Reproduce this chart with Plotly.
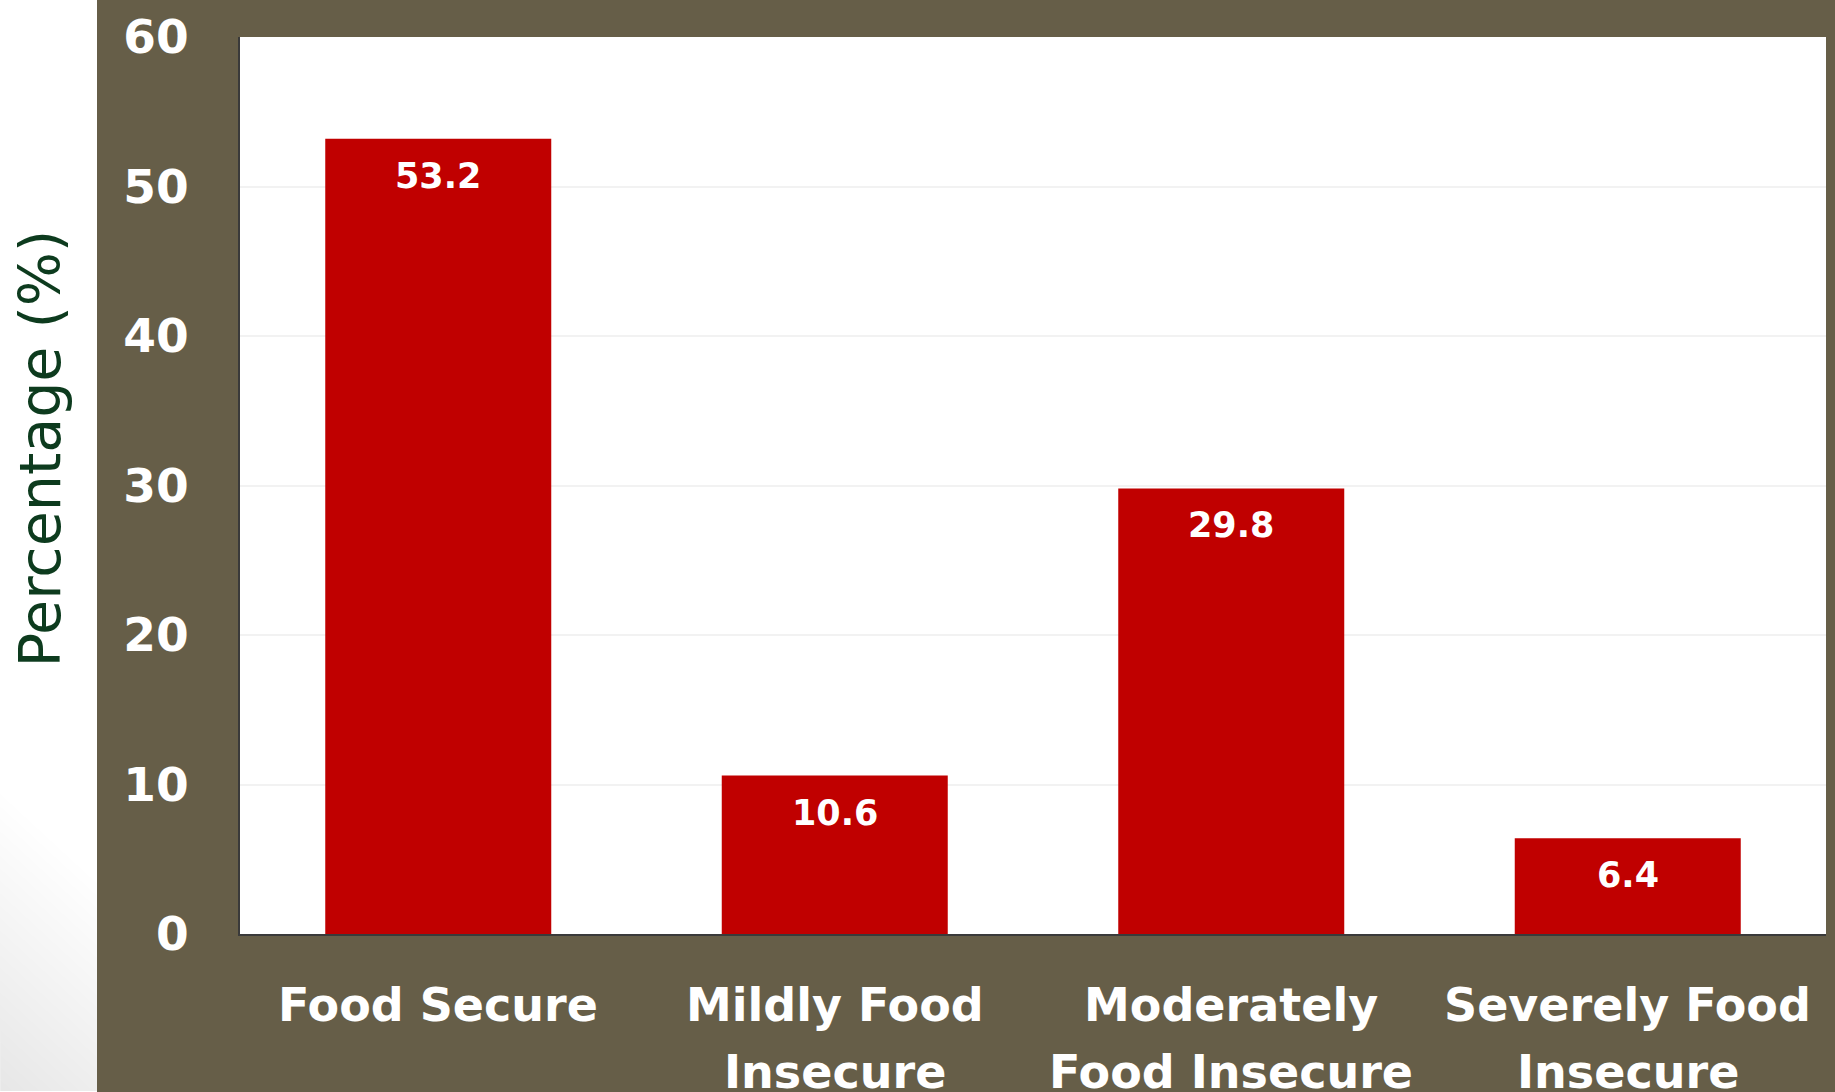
import plotly.graph_objects as go

categories = ["Food Secure", "Mildly Food Insecure", "Moderately Food Insecure", "Severely Food Insecure"]
label_lines = [["Food Secure"], ["Mildly Food", "Insecure"], ["Moderately", "Food Insecure"], ["Severely Food", "Insecure"]]
values = [53.2, 10.6, 29.8, 6.4]
y_ticks = [0, 10, 20, 30, 40, 50, 60]

W, H = 1835, 1092
L, R, T, B = 240, 9, 31, 158
PW, PH = W - L - R, H - T - B

def px_x(p):
    return (p - L) / PW

def px_y(p):
    return (H - B - p) / PH

OLIVE = "#665E48"
BAR = "#C00000"
FONT_B = "DejaVu Sans"

fig = go.Figure()
fig.add_trace(go.Bar(
    x=categories, y=values, marker=dict(color=BAR, line=dict(width=0)),
    width=0.57, hoverinfo="skip",
))

shapes = []
# subtle diagonal gradient in the lower-left white margin
n = 24
for i in range(n):
    c = 300 * (1 - i / n)
    path = "M {:.5f},{:.5f} L {:.5f},{:.5f} L {:.5f},{:.5f} Z".format(
        px_x(0), px_y(H), px_x(0), px_y(H - c), px_x(c / 0.93), px_y(H))
    shapes.append(dict(type="path", xref="paper", yref="paper", layer="below",
                       path=path, fillcolor="rgba(0,0,0,0.0052)", line=dict(width=0)))
shapes.append(dict(type="rect", xref="paper", yref="paper", layer="below",
                   x0=px_x(97), x1=px_x(W + 20), y0=px_y(H + 20), y1=px_y(-20),
                   fillcolor=OLIVE, line=dict(width=0)))
shapes.append(dict(type="rect", xref="paper", yref="paper", layer="below",
                   x0=0, x1=1, y0=0, y1=1, fillcolor="white", line=dict(width=0)))

annotations = []
for c, v in zip(categories, values):
    annotations.append(dict(x=c, y=v, xref="x", yref="y", text=f"{v}", showarrow=False,
                            yanchor="middle", yshift=-37,
                            font=dict(family=FONT_B, size=35, color="white", weight="bold")))
for c, lines in zip(categories, label_lines):
    for j, line in enumerate(lines):
        annotations.append(dict(x=c, y=px_y(1005 + 68 * j), xref="x", yref="paper",
                                text=line, showarrow=False, yanchor="middle",
                                font=dict(family=FONT_B, size=46, color="white", weight="bold")))
annotations.append(dict(x=px_x(40), y=px_y(446), xref="paper", yref="paper",
                        text="Percentage (%)", showarrow=False, textangle=-90,
                        xanchor="center", yanchor="middle",
                        font=dict(family="DejaVu Sans", size=57, color="#0D3B1E")))

fig.update_layout(
    width=W, height=H,
    margin=dict(l=L, r=R, t=T, b=B, pad=0),
    paper_bgcolor="white", plot_bgcolor="rgba(0,0,0,0)",
    showlegend=False, bargap=0.43,
    shapes=shapes, annotations=annotations,
    xaxis=dict(
        showticklabels=False,
        showline=True, linecolor="#3A3A3A", linewidth=2, showgrid=False, ticks="",
    ),
    yaxis=dict(
        range=[0, 60], tickvals=y_ticks,
        tickfont=dict(family=FONT_B, size=47, color="white", weight="bold"),
        showline=True, linecolor="#3A3A3A", linewidth=2,
        showgrid=True, gridcolor="#F2F2F2", gridwidth=2,
        zeroline=False, ticks="", ticklabelstandoff=40,
    ),
)

fig.write_html("out.html", config={"displayModeBar": False},
               post_script="document.body.style.margin='0';document.body.style.overflow='hidden';")
